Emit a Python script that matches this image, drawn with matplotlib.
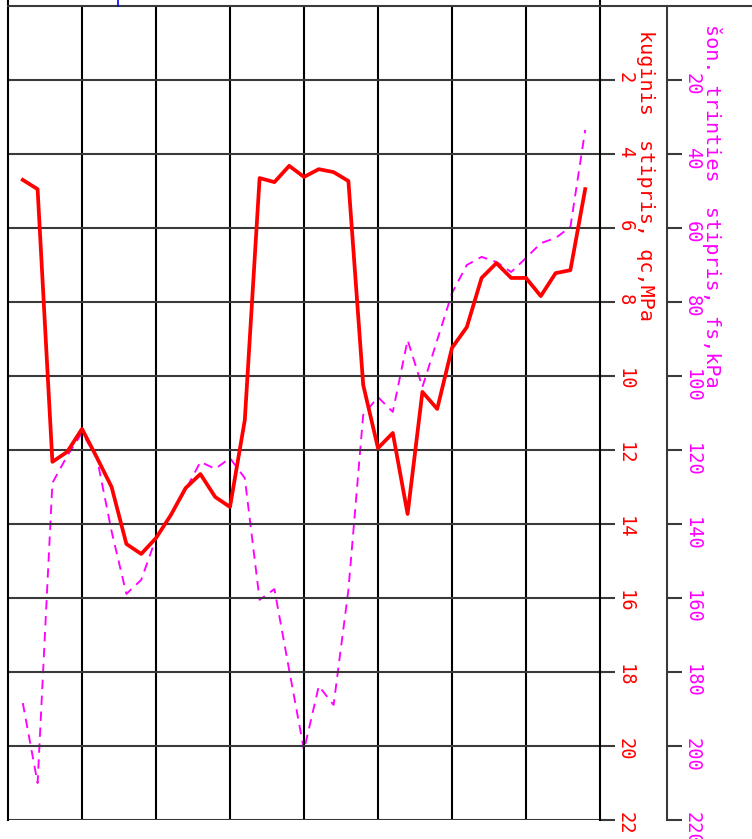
import matplotlib
matplotlib.use("Agg")
import matplotlib.pyplot as plt

# CPT log, drawn rotated: depth runs left->right, values grow downward
depth = [0.2, 0.4, 0.6, 0.8, 1.0, 1.2, 1.4, 1.6, 1.8, 2.0, 2.2, 2.4, 2.6,
         2.8, 3.0, 3.2, 3.4, 3.6, 3.8, 4.0, 4.2, 4.4, 4.6, 4.8, 5.0, 5.2,
         5.4, 5.6, 5.8, 6.0, 6.2, 6.4, 6.6, 6.8, 7.0, 7.2, 7.4, 7.6, 7.8]
qc = [4.70, 4.95, 12.32, 12.05, 11.43, 12.2, 13.0, 14.54, 14.81, 14.38,
      13.76, 13.03, 12.65, 13.27, 13.54, 11.19, 4.65, 4.76, 4.32, 4.62,
      4.41, 4.49, 4.73, 10.24, 11.95, 11.54, 13.73, 10.43, 10.89, 9.24,
      8.68, 7.35, 6.95, 7.35, 7.35, 7.84, 7.22, 7.14, 4.95]
fs = [188.4, 210, 128.9, 121.6, 115.4, 122, 142, 158.9, 155.1, 143.8,
      137.6, 130.8, 123.2, 125.1, 122.2, 127.6, 160.5, 157.6, 179.5, 201.1,
      183.8, 188.9, 157.8, 110.5, 105.7, 109.7, 90.3, 103, 90.3, 77.6,
      70, 67.8, 69.2, 71.9, 68.1, 64.1, 62.7, 59.7, 33.5]

qc_ticks = [2, 4, 6, 8, 10, 12, 14, 16, 18, 20, 22]
fs_ticks = [20, 40, 60, 80, 100, 120, 140, 160, 180, 200, 220]
depth_grid = [1, 2, 3, 4, 5, 6, 7]
blue_mark = 1.486

plt.rcParams["font.family"] = "DejaVu Sans Mono"

W, H = 752, 839
fig = plt.figure(figsize=(W / 100, H / 100), dpi=100)
ax = fig.add_axes([8 / W, 1 - 820 / H, 592 / W, 814 / H])
ax.set_xlim(0, 8)
ax.set_ylim(22, 0)
for s in ax.spines.values():
    s.set_visible(False)
ax.set_xticks([])

grey = "#3a3a3a"
lw = 1.5
ext_top = 820 / 814

for d in depth_grid:
    ax.axvline(d, color="black", lw=lw, zorder=1)
ax.axvline(0, ymin=0, ymax=ext_top, color="black", lw=lw, clip_on=False)
ax.axvline(8, ymin=0, ymax=ext_top, color="black", lw=lw, clip_on=False)
for v in qc_ticks:
    ax.axhline(v, color=grey, lw=lw, zorder=1)
ax.axhline(0, xmin=0, xmax=744 / 592, color=grey, lw=lw, clip_on=False)
ax.axvline(blue_mark, ymin=1, ymax=ext_top, color="blue", lw=1.2, clip_on=False)

ax2 = ax.twinx()
ax2.set_ylim(220, 0)
for k, s in ax2.spines.items():
    s.set_visible(k == "right")
ax2.spines["right"].set_position(("axes", 659 / 592))
ax2.spines["right"].set_color(grey)
ax2.spines["right"].set_linewidth(lw)
ax2.set_yticks(fs_ticks)
ax2.tick_params(axis="y", direction="out", length=10.8, width=lw, color=grey,
                labelcolor="#ff00ff", labelsize=13.5, labelrotation=-90, pad=0.5)

# twinx moves the first axes' ticks to the left, put them back on the right
ax.set_yticks(qc_ticks)
ax.tick_params(axis="y", left=False, labelleft=False, right=True, labelright=True,
               direction="out", length=10.8, width=lw, color=grey,
               labelcolor="red", labelsize=13.5, labelrotation=-90, pad=0.5)

ax2.plot(depth, fs, color="#ff00ff", lw=1.35, dashes=(5, 3.5))
ax.plot(depth, qc, color="#ff0000", lw=2.7, zorder=5)
ax.set_zorder(ax2.get_zorder() + 1)
ax.patch.set_visible(False)

fig.text(646 / W, 1 - 30 / H, "kuginis  stipris, qc,MPa", color="red",
         fontsize=14.5, rotation=-90, rotation_mode="anchor", ha="left", va="center")
fig.text(712 / W, 1 - 24 / H, "šon. trinties  stipris, fs,kPa", color="#ff00ff",
         fontsize=14.5, rotation=-90, rotation_mode="anchor", ha="left", va="center")

fig.savefig("out.png", dpi=100)
